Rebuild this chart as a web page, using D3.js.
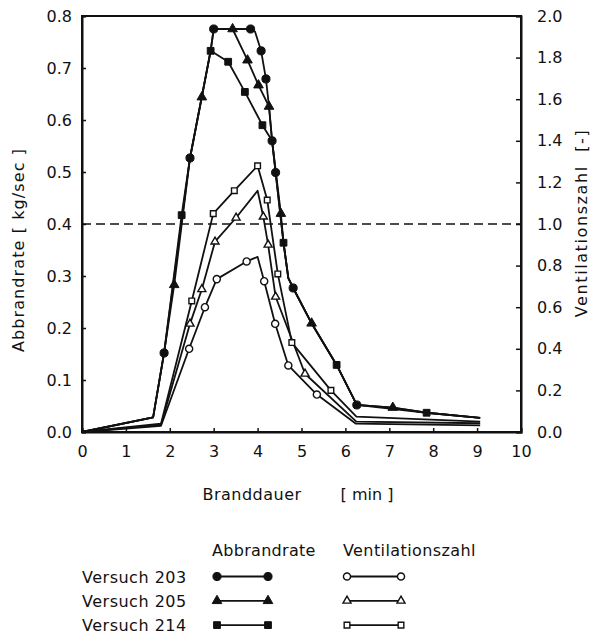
<!DOCTYPE html>
<html><head><meta charset="utf-8">
<script src="https://cdn.jsdelivr.net/npm/d3@7/dist/d3.min.js"></script>
<style>
body{margin:0;background:#fff}
svg{display:block}
text{font-family:"DejaVu Sans",sans-serif;fill:#111}
</style>
</head><body>
<svg id="c" width="594" height="635"></svg>
<script>
// ---- data ----
const xTicks = [0,1,2,3,4,5,6,7,8,9,10];
const leftTicks = [0,0.1,0.2,0.3,0.4,0.5,0.6,0.7,0.8];
const rightTicks = [0,0.2,0.4,0.6,0.8,1.0,1.2,1.4,1.6,1.8,2.0];
const refLine = 1.0; // Ventilationszahl = 1
const versuche = ["Versuch 203","Versuch 205","Versuch 214"];
const legendHeads = ["Abbrandrate","Ventilationszahl"];
// [time (min), value, marker shown]
// Abbrandrate [kg/sec] (left axis)
const abbr203 = [[0,0,0],[1.62,0.028,0],[1.87,0.152,1],[2.46,0.527,1],[2.93,0.733,0],[3.0,0.775,1],[3.43,0.775,0],[3.84,0.775,1],[3.94,0.77,0],[4.08,0.733,1],[4.19,0.679,1],[4.26,0.626,0],[4.33,0.56,1],[4.41,0.499,1],[4.59,0.364,0],[4.70,0.296,0],[4.81,0.277,1],[5.23,0.209,0],[5.80,0.129,0],[6.26,0.052,1],[7.08,0.047,0],[7.85,0.037,0],[9.07,0.027,0]];
const abbr205 = [[0,0,0],[1.62,0.028,0],[1.87,0.152,0],[2.10,0.283,1],[2.46,0.527,0],[2.73,0.644,1],[2.93,0.733,0],[3.0,0.775,0],[3.43,0.775,1],[3.77,0.715,1],[4.02,0.667,1],[4.26,0.626,1],[4.33,0.56,0],[4.53,0.42,1],[4.59,0.364,0],[4.70,0.296,0],[4.81,0.277,0],[5.23,0.209,1],[5.80,0.129,0],[6.26,0.052,0],[7.08,0.047,1],[7.85,0.037,0],[9.07,0.027,0]];
const abbr214 = [[0,0,0],[1.62,0.028,0],[1.87,0.152,0],[2.27,0.417,1],[2.46,0.527,0],[2.93,0.733,1],[3.33,0.712,1],[3.71,0.654,1],[4.11,0.59,1],[4.33,0.56,0],[4.59,0.364,1],[4.70,0.296,0],[4.81,0.277,0],[5.23,0.209,0],[5.80,0.129,1],[6.26,0.052,0],[7.85,0.037,1],[9.07,0.027,0]];
// Ventilationszahl [-] (right axis)
const vent203 = [[0,0,0],[1.80,0.03,0],[2.44,0.40,1],[2.80,0.60,1],[3.07,0.735,1],[3.75,0.82,1],[4.0,0.842,0],[4.15,0.725,1],[4.40,0.52,1],[4.70,0.32,1],[5.35,0.18,1],[6.24,0.04,0],[9.07,0.032,0]];
const vent205 = [[0,0,0],[1.80,0.035,0],[2.46,0.52,1],[2.73,0.686,1],[3.03,0.915,1],[3.51,1.03,1],[4.0,1.16,0],[4.13,1.035,1],[4.24,0.90,1],[4.41,0.65,1],[5.08,0.28,1],[6.25,0.05,0],[9.07,0.042,0]];
const vent214 = [[0,0,0],[1.80,0.04,0],[2.50,0.63,1],[2.99,1.05,1],[3.47,1.16,1],[4.0,1.28,1],[4.22,1.115,1],[4.46,0.76,1],[4.78,0.43,1],[5.67,0.20,1],[6.25,0.074,0],[9.07,0.05,0]];

// ---- chart ----
const svg = d3.select("#c");
const x = d3.scaleLinear().domain([0,10]).range([82,521]);
const yL = d3.scaleLinear().domain([0,0.8]).range([432,16]);
const yR = d3.scaleLinear().domain([0,2]).range([432,16]);
const ink = "#111";

const series = [
  {data:abbr203, y:yL, shape:"circle", filled:true},
  {data:abbr205, y:yL, shape:"triangle", filled:true},
  {data:abbr214, y:yL, shape:"square", filled:true},
  {data:vent203, y:yR, shape:"circle", filled:false},
  {data:vent205, y:yR, shape:"triangle", filled:false},
  {data:vent214, y:yR, shape:"square", filled:false}
];

function symFor(shape, filled){
  const t = shape==="circle"?d3.symbolCircle:shape==="square"?d3.symbolSquare:d3.symbolTriangle;
  const size = filled ? (shape==="circle"?52:shape==="square"?46:40) : (shape==="circle"?40:shape==="square"?32:28);
  return d3.symbol().type(t).size(size)();
}
function drawMarker(g, shape, filled, px, py){
  g.append("path").attr("d", symFor(shape, filled))
   .attr("transform", `translate(${px},${py})`)
   .attr("fill", filled?ink:"#fff").attr("stroke", ink)
   .attr("stroke-width", filled?1:1.4);
}

// frame
svg.append("rect").attr("x",82).attr("y",16).attr("width",439).attr("height",416)
  .attr("fill","none").attr("stroke",ink).attr("stroke-width",2);

// axes
const fs = 16;
const axL = svg.append("g").attr("transform","translate(82,0)")
  .call(d3.axisLeft(yL).tickValues(leftTicks).tickSize(-4).tickPadding(10).tickFormat(d3.format(".1f")));
const axR = svg.append("g").attr("transform","translate(521,0)")
  .call(d3.axisRight(yR).tickValues(rightTicks).tickSize(-5).tickPadding(16).tickFormat(d3.format(".1f")));
const axB = svg.append("g").attr("transform","translate(0,432)")
  .call(d3.axisBottom(x).tickValues(xTicks).tickSize(-4).tickPadding(14).tickFormat(d3.format("d")));
[axL,axR,axB].forEach(a=>{
  a.select(".domain").attr("stroke",ink).attr("stroke-width",2);
  a.selectAll(".tick line").attr("stroke",ink).attr("stroke-width",1.5);
  a.selectAll("text").attr("font-size",fs).attr("font-family","DejaVu Sans").attr("fill",ink);
});

// dashed reference line
svg.append("line").attr("x1",x(0)).attr("x2",x(10)).attr("y1",yR(refLine)).attr("y2",yR(refLine))
  .attr("stroke",ink).attr("stroke-width",1.5).attr("stroke-dasharray","9,5");

// lines
series.forEach(s=>{
  const line = d3.line().x(d=>x(d[0])).y(d=>s.y(d[1]));
  svg.append("path").datum(s.data).attr("d",line).attr("fill","none")
    .attr("stroke",ink).attr("stroke-width",1.8).attr("stroke-linejoin","round");
});
series.forEach(s=>{
  const g = svg.append("g");
  s.data.filter(d=>d[2]).forEach(d=>drawMarker(g, s.shape, s.filled, x(d[0]), s.y(d[1])));
});

// axis titles
svg.append("text").attr("transform","translate(24,250) rotate(-90)").attr("text-anchor","middle")
  .attr("font-size",fs).attr("letter-spacing",1.1).text("Abbrandrate [ kg/sec ]");
svg.append("text").attr("transform","translate(587,223) rotate(-90)").attr("text-anchor","middle")
  .attr("font-size",fs).attr("letter-spacing",1.6).attr("xml:space","preserve").text("Ventilationszahl  [-]");
svg.append("text").attr("x",252).attr("y",500).attr("text-anchor","middle").attr("font-size",fs).attr("letter-spacing",0.5).text("Branddauer");
svg.append("text").attr("x",367).attr("y",500).attr("text-anchor","middle").attr("font-size",fs).text("[ min ]");

// legend
svg.append("text").attr("x",212).attr("y",556).attr("font-size",fs).attr("letter-spacing",0.3).text(legendHeads[0]);
svg.append("text").attr("x",343).attr("y",556).attr("font-size",fs).attr("letter-spacing",0.4).text(legendHeads[1]);
const shapes = ["circle","triangle","square"];
versuche.forEach((name,i)=>{
  const yy = 576.5 + i*24.3;
  svg.append("text").attr("x",82).attr("y",yy+6).attr("font-size",fs).attr("letter-spacing",0.5).text(name);
  const g = svg.append("g");
  g.append("line").attr("x1",217).attr("x2",268).attr("y1",yy).attr("y2",yy).attr("stroke",ink).attr("stroke-width",1.8);
  drawMarker(g, shapes[i], true, 217, yy); drawMarker(g, shapes[i], true, 268, yy);
  g.append("line").attr("x1",347).attr("x2",401).attr("y1",yy).attr("y2",yy).attr("stroke",ink).attr("stroke-width",1.8);
  drawMarker(g, shapes[i], false, 347, yy); drawMarker(g, shapes[i], false, 401, yy);
});
</script>
</body></html>
